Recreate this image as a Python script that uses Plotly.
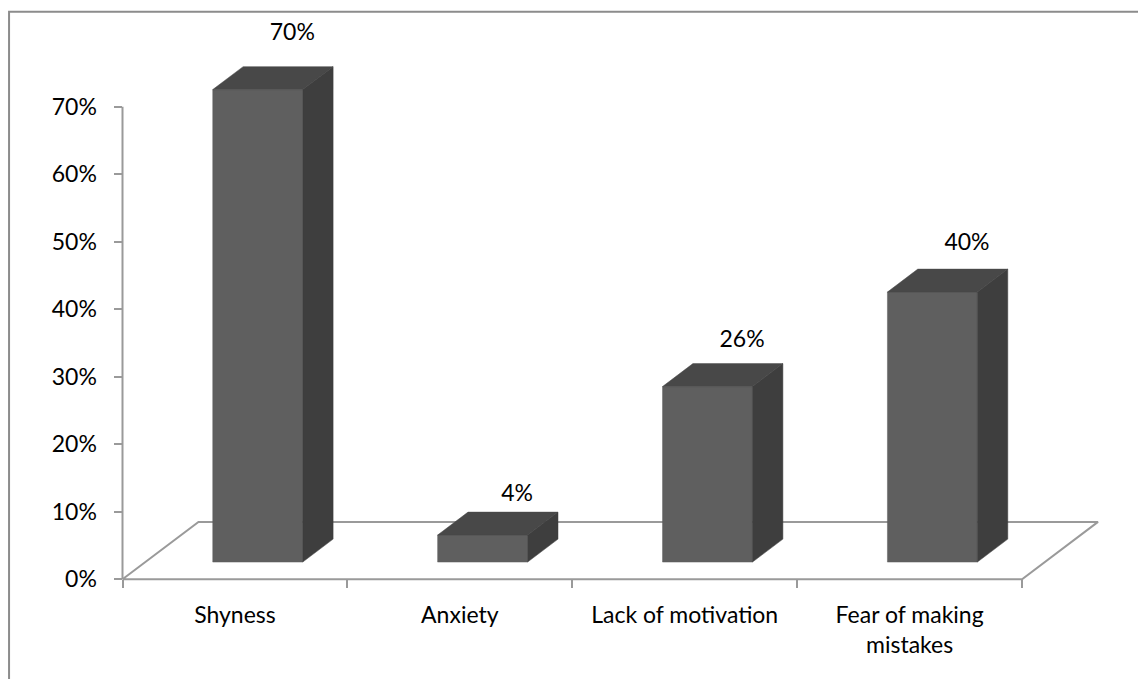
import plotly.graph_objects as go

categories = ["Shyness", "Anxiety", "Lack of motivation", "Fear of making<br>mistakes"]
values = [0.70, 0.04, 0.26, 0.40]
y_ticks = [0.0, 0.1, 0.2, 0.3, 0.4, 0.5, 0.6, 0.7]

FONT = "Lato"
FONT_SIZE = 23
COLOR_FRONT = "#5f5f5f"
COLOR_TOP = "#484848"
COLOR_SIDE = "#3e3e3e"
COLOR_AXIS = "#9a9a9a"

# page has an 8px body margin, so the figure is a bit smaller than the window
W, H = 1138, 671
PX_CAT = 225.0      # px per category
PX_VAL = 674.7      # px per 1.0 (100%)
ORIGIN_X, ORIGIN_Y = 114, 571
PAD_X, PAD_Y = 0.02, 0.01

# fake 3D geometry in data units
FLOOR_DX, FLOOR_DY = 76 / PX_CAT, 57.3 / PX_VAL
BAR_W = 0.4
BAR_FRONT = 0.3     # fraction of floor depth where bar front sits
BAR_DEPTH = 0.4

n = len(categories)
left_px = ORIGIN_X - PAD_X * PX_CAT
bottom_px = ORIGIN_Y + PAD_Y * PX_VAL
plot_w = W - left_px
x_range = [-PAD_X, -PAD_X + plot_w / PX_CAT]
y_range = [-PAD_Y, -PAD_Y + bottom_px / PX_VAL]

fig = go.Figure()

# floor
fig.add_trace(go.Scatter(
    x=[0, n, n + FLOOR_DX, FLOOR_DX, 0],
    y=[0, 0, FLOOR_DY, FLOOR_DY, 0],
    mode="lines", line=dict(color=COLOR_AXIS, width=2),
    hoverinfo="skip", showlegend=False,
))
# vertical axis line
fig.add_trace(go.Scatter(
    x=[0, 0], y=[y_ticks[0], y_ticks[-1]],
    mode="lines", line=dict(color=COLOR_AXIS, width=2),
    hoverinfo="skip", showlegend=False,
))

ox, oy = BAR_FRONT * FLOOR_DX, BAR_FRONT * FLOOR_DY
ddx, ddy = BAR_DEPTH * FLOOR_DX, BAR_DEPTH * FLOOR_DY
for i, v in enumerate(values):
    x0 = i + 0.5 - BAR_W / 2 + ox
    x1 = x0 + BAR_W
    y0, y1 = oy, v + oy
    faces = [
        ([x0, x1, x1, x0, x0], [y0, y0, y1, y1, y0], COLOR_FRONT),
        ([x0, x1, x1 + ddx, x0 + ddx, x0], [y1, y1, y1 + ddy, y1 + ddy, y1], COLOR_TOP),
        ([x1, x1 + ddx, x1 + ddx, x1, x1], [y0, y0 + ddy, y1 + ddy, y1, y0], COLOR_SIDE),
    ]
    for fx, fy, col in faces:
        fig.add_trace(go.Scatter(
            x=fx, y=fy, mode="lines", fill="toself", fillcolor=col,
            line=dict(color=col, width=0.5),
            hoverinfo="skip", showlegend=False,
        ))

# value labels
fig.add_trace(go.Scatter(
    x=[i + 0.755 for i in range(n)],
    y=[v * 1.035 + 0.083 for v in values],
    mode="text",
    text=[f"{v:.0%}" for v in values],
    textfont=dict(family=FONT, size=FONT_SIZE, color="#000000"),
    hoverinfo="skip", showlegend=False, cliponaxis=False,
))

fig.update_layout(
    width=W, height=H,
    paper_bgcolor="white", plot_bgcolor="white",
    margin=dict(l=left_px, r=0, t=0, b=H - bottom_px),
    font=dict(family=FONT, size=FONT_SIZE, color="#000000"),
    xaxis=dict(
        range=x_range, showgrid=False, zeroline=False, showline=False,
        tickmode="array", tickvals=[i + 0.5 for i in range(n)], ticktext=categories,
        ticks="", ticklabelstandoff=20,
        anchor="free", position=PAD_Y * PX_VAL / bottom_px,
        minor=dict(tickmode="array", tickvals=list(range(n + 1)), ticks="outside",
                   ticklen=8, tickwidth=2, tickcolor=COLOR_AXIS, showgrid=False),
    ),
    yaxis=dict(
        range=y_range, showgrid=False, zeroline=False, showline=False,
        tickmode="array", tickvals=y_ticks, tickformat=".0%",
        ticks="outside", ticklen=8, tickwidth=2, tickcolor=COLOR_AXIS,
        ticklabelstandoff=13,
        anchor="free", position=PAD_X * PX_CAT / plot_w,
    ),
    shapes=[dict(
        type="rect", xref="paper", yref="paper",
        x0=(0.5 - left_px) / plot_w, x1=1.05,
        y0=-0.3, y1=(bottom_px - 3.8) / bottom_px,
        line=dict(color="#8c8c8c", width=2),
    )],
)

fig.write_html("out.html", config={"displayModeBar": False})
